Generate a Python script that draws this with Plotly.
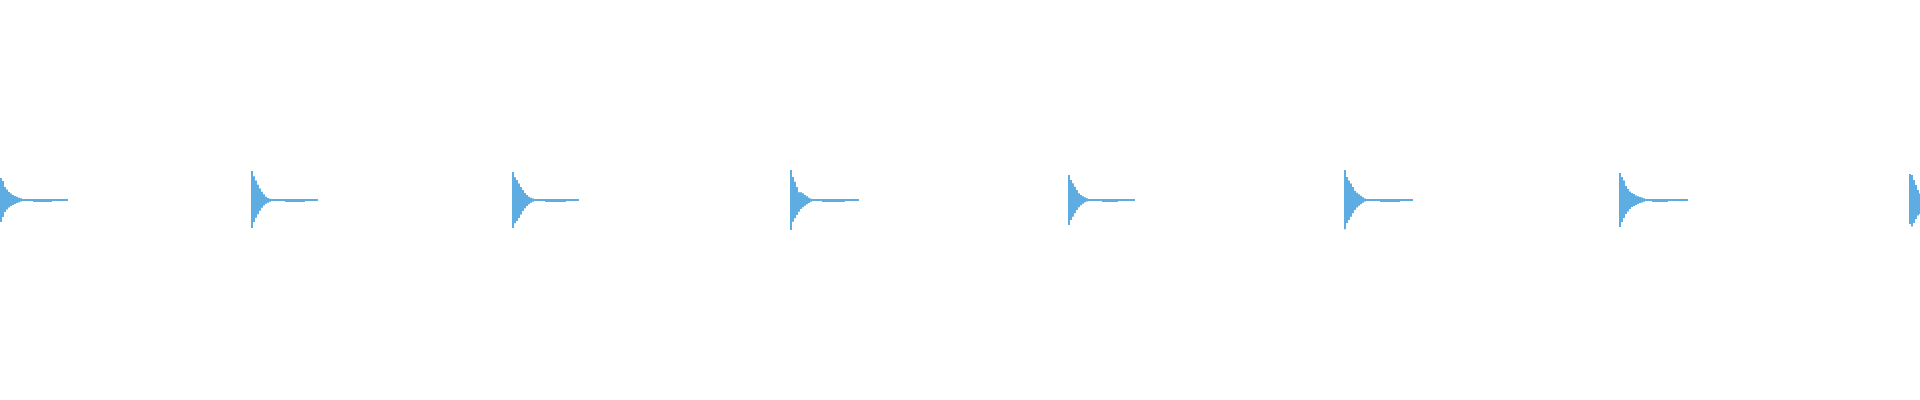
import plotly.graph_objects as go

# waveform of 8 drum hits, amplitude in % of full scale, 10 ms envelope bins
BIN = 0.01  # seconds per envelope bin
DURATION = 9.6  # seconds shown

ONSETS = [0.0, 1.255, 2.56, 3.95, 5.34, 6.72, 8.095, 9.545]

HIT1_UPPER = [11, 9.5, 6.5, 5.25, 4, 3.25, 2.5, 2, 1.65, 1.15, 0.85, 0.5]
HIT1_LOWER = [11, 8.5, 6, 4.75, 3.75, 3, 2.5, 2, 1.5, 1.15, 0.75, 0.5]
HIT2_UPPER = [14.5, 11.9, 9.75, 7.65, 5.75, 4.15, 2.85, 1.65, 1.0, 0.65, 0.4]
HIT2_LOWER = [14, 11, 8.9, 7.1, 5.4, 3.9, 2.75, 1.85, 1.35, 0.85, 0.5]
HIT3_UPPER = [14, 11.35, 10, 8.25, 6.5, 5, 3.5, 2.5, 1.65, 1.15, 0.75, 0.5]
HIT3_LOWER = [14, 11.65, 10.5, 9, 7.25, 5.5, 4.15, 3, 2.15, 1.4, 0.9, 0.5]
HIT4_UPPER = [15, 11.5, 9.15, 6.5, 3.9, 3.85, 3.35, 2.5, 1.85, 1.15, 0.65, 0.4]
HIT4_LOWER = [15, 10.85, 9.15, 7.5, 5.85, 4.5, 3.65, 2.85, 2.15, 1.5, 0.85, 0.5]
HIT5_UPPER = [12.5, 10, 8.35, 6.65, 5, 3.35, 2.5, 1.85, 1.35, 0.85, 0.5, 0.35]
HIT5_LOWER = [12.5, 10, 8.35, 6.65, 5, 3.6, 2.6, 1.85, 1.15, 0.75, 0.5, 0.35]
HIT6_UPPER = [15, 11.5, 9.75, 8.25, 6.5, 4.65, 3.6, 2.9, 2.1, 1.35, 0.8, 0.5]
HIT6_LOWER = [14.65, 11.5, 10, 8.35, 6.65, 5, 3.75, 2.9, 2.1, 1.35, 0.8, 0.5]
HIT7_UPPER = [13.5, 11.5, 9.75, 7, 5.5, 4.25, 3.5, 3, 2.25, 1.9, 1.5, 1.25, 0.9, 0.55]
HIT7_LOWER = [13.5, 11, 9, 7, 5.75, 4.5, 3.5, 3, 2.5, 2, 1.5, 1.25, 0.9, 0.5]
HIT8_UPPER = [13, 12.5, 10, 7.5, 5, 3.25]
HIT8_LOWER = [12, 13.25, 11.5, 9.5, 7.75, 7]

# ringing tail after each hit (seconds after onset); last hit is cut off
TAIL_ENDS = [0.34, 0.335, 0.335, 0.345, 0.335, 0.345, 0.345, None]
THICK_STARTS = [0.165, 0.17, 0.165, 0.16, 0.17, 0.18, 0.165, None]
THICK_ENDS = [0.26, 0.27, 0.27, 0.275, 0.25, 0.28, 0.245, None]
TAIL_UPPER = 0.25
TAIL_LOWER = 0.25
THICK_LOWER = 0.6

COLOR = "#5dade2"

uppers = [HIT1_UPPER, HIT2_UPPER, HIT3_UPPER, HIT4_UPPER,
          HIT5_UPPER, HIT6_UPPER, HIT7_UPPER, HIT8_UPPER]
lowers = [HIT1_LOWER, HIT2_LOWER, HIT3_LOWER, HIT4_LOWER,
          HIT5_LOWER, HIT6_LOWER, HIT7_LOWER, HIT8_LOWER]

fig = go.Figure()

for i, onset in enumerate(ONSETS):
    up = uppers[i]
    lo = lowers[i]
    xs = [onset + k * BIN for k in range(len(up))]
    fig.add_trace(go.Bar(
        x=xs,
        y=[u + l for u, l in zip(up, lo)],
        base=[-l for l in lo],
        width=BIN,
        offset=0,
        marker_color=COLOR,
        marker_line_width=0,
        hoverinfo="skip"))

    if TAIL_ENDS[i] is None:
        continue
    start = len(up) * BIN
    fig.add_trace(go.Bar(
        x=[onset + start],
        y=[TAIL_UPPER + TAIL_LOWER],
        base=[-TAIL_LOWER],
        width=[TAIL_ENDS[i] - start],
        offset=0,
        marker_color=COLOR,
        marker_line_width=0,
        hoverinfo="skip"))
    fig.add_trace(go.Bar(
        x=[onset + THICK_STARTS[i]],
        y=[TAIL_UPPER + THICK_LOWER],
        base=[-THICK_LOWER],
        width=[THICK_ENDS[i] - THICK_STARTS[i]],
        offset=0,
        marker_color=COLOR,
        marker_line_width=0,
        hoverinfo="skip"))

fig.update_xaxes(range=[0, DURATION], visible=False)
fig.update_yaxes(range=[-100, 100], visible=False)
fig.update_layout(
    barmode="overlay",
    showlegend=False,
    plot_bgcolor="white",
    paper_bgcolor="white",
    width=1920,
    height=400,
    margin=dict(l=0, r=0, t=0, b=0, pad=0))

# page body has a default 8px margin; drop it so the plot sits at the corner
fig.write_html(
    "out.html",
    config={"displayModeBar": False},
    post_script="document.body.style.margin = '0';")
